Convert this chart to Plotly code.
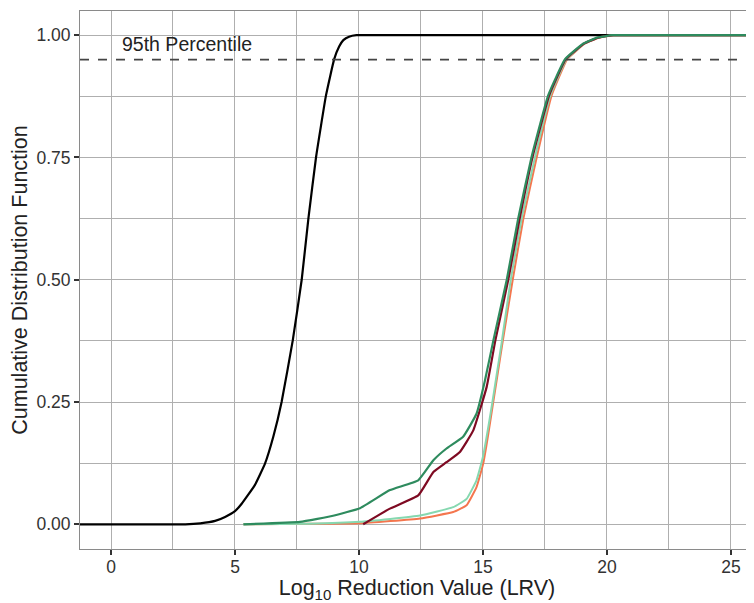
import plotly.graph_objects as go

# Data
black_x = [-1.25, 2.0, 3.0, 3.6, 4.2, 4.6, 5.0, 5.27, 5.8, 6.21, 6.55, 6.88, 7.33, 7.69, 7.96, 8.27, 8.67, 9.0, 9.2, 9.37, 9.6, 9.9, 10.5, 12.0, 16.0, 26.0]
black_y = [0.0, 0.0, 0.0, 0.002, 0.007, 0.015, 0.027, 0.042, 0.08, 0.124, 0.18, 0.25, 0.376, 0.5, 0.625, 0.751, 0.877, 0.951, 0.977, 0.99, 0.997, 1.0, 1.0, 1.0, 1.0, 1.0]

dgreen_x = [5.34, 7.62, 9.0, 10.04, 11.25, 12.39, 13.0, 13.53, 14.2, 14.74, 15.08, 15.42, 15.96, 16.42, 16.96, 17.63, 18.31, 19.05, 19.6, 20.2, 21.0, 23.0, 26.0]
dgreen_y = [0.0, 0.005, 0.018, 0.033, 0.07, 0.09, 0.131, 0.155, 0.179, 0.226, 0.294, 0.376, 0.5, 0.625, 0.751, 0.877, 0.951, 0.983, 0.995, 1.0, 1.0, 1.0, 1.0]

dred_x = [10.17, 11.25, 12.39, 13.0, 13.53, 14.07, 14.61, 15.15, 15.5, 16.02, 16.48, 17.0, 17.67, 18.34, 19.08, 19.65, 20.25, 21.0, 23.0, 26.0]
dred_y = [0.0, 0.032, 0.059, 0.107, 0.127, 0.148, 0.192, 0.281, 0.376, 0.5, 0.625, 0.751, 0.877, 0.951, 0.983, 0.995, 1.0, 1.0, 1.0, 1.0]

aqua_x = [5.34, 8.0, 10.04, 12.46, 13.8, 14.34, 14.74, 15.0, 15.35, 15.55, 15.75, 16.12, 16.56, 17.1, 17.72, 18.37, 19.1, 19.65, 20.25, 21.0, 23.0, 26.0]
aqua_y = [0.0, 0.001, 0.005, 0.018, 0.035, 0.052, 0.09, 0.138, 0.24, 0.305, 0.37, 0.5, 0.625, 0.751, 0.877, 0.951, 0.983, 0.995, 1.0, 1.0, 1.0, 1.0]

coral_x = [5.34, 8.0, 10.04, 12.46, 13.8, 14.34, 14.74, 15.01, 15.2, 15.4, 15.6, 15.8, 16.2, 16.63, 17.17, 17.77, 18.4, 19.12, 19.7, 20.3, 21.0, 23.0, 26.0]
coral_y = [0.0, 0.001, 0.002, 0.012, 0.025, 0.039, 0.076, 0.124, 0.18, 0.245, 0.31, 0.375, 0.5, 0.625, 0.751, 0.877, 0.951, 0.983, 0.995, 1.0, 1.0, 1.0, 1.0]

percentile_level = 0.95
percentile_label = "95th Percentile"
x_ticks = [0, 5, 10, 15, 20, 25]
y_ticks = [0.0, 0.25, 0.5, 0.75, 1.0]
y_tick_labels = ["0.00", "0.25", "0.50", "0.75", "1.00"]

fig = go.Figure()

def add_line(x, y, color, width=2.0):
    fig.add_trace(go.Scatter(x=x, y=y, mode="lines",
                             line=dict(color=color, width=width, shape="spline", smoothing=0.35),
                             showlegend=False, hoverinfo="skip"))

add_line(black_x, black_y, "#000000", 2.2)
add_line(coral_x, coral_y, "#F4764E", 2.0)
add_line(aqua_x, aqua_y, "#86D8B0", 2.0)
add_line(dred_x, dred_y, "#7E0A22", 2.2)
add_line(dgreen_x, dgreen_y, "#2E8B5E", 2.2)

fig.add_shape(type="line", xref="paper", yref="y", x0=0, x1=1,
              y0=percentile_level, y1=percentile_level,
              line=dict(color="#444444", width=1.6, dash="dash"))

fig.add_annotation(x=3.05, y=0.982, text=percentile_label, showarrow=False,
                   font=dict(size=19.5, color="#222222"), xanchor="center", yanchor="middle")

grid = "#AFAFAF"
fig.update_layout(
    width=746, height=595,
    margin=dict(l=72, r=0, t=3, b=54),
    plot_bgcolor="white", paper_bgcolor="white",
    font=dict(family="Liberation Sans, Arial, sans-serif", color="#222222"),
    xaxis=dict(range=[-1.25, 25.93], tickvals=x_ticks, ticktext=[str(v) for v in x_ticks],
               automargin=False, ticklabelstandoff=-3,
               showgrid=True, gridcolor=grid, gridwidth=1,
               minor=dict(dtick=2.5, tick0=0, showgrid=True, gridcolor=grid, gridwidth=1),
               zeroline=False, showline=True, linecolor="#8A8A8A", linewidth=1, mirror=True,
               ticks="outside", ticklen=5, tickcolor="#333333", tickwidth=1.5,
               tickfont=dict(size=17.5, color="#333333"),
               title=dict(text="Log<sub>10</sub> Reduction Value (LRV)", font=dict(size=21.5, color="#222222"), standoff=3)),
    yaxis=dict(range=[-0.0505, 1.0495], tickvals=y_ticks, ticktext=y_tick_labels,
               automargin=False,
               showgrid=True, gridcolor=grid, gridwidth=1,
               minor=dict(dtick=0.125, tick0=0, showgrid=True, gridcolor=grid, gridwidth=1),
               zeroline=False, showline=True, linecolor="#8A8A8A", linewidth=1, mirror=True,
               ticks="outside", ticklen=5, tickcolor="#333333", tickwidth=1.5,
               tickfont=dict(size=17.5, color="#333333"),
               title=dict(text="Cumulative Distribution Function", font=dict(size=21.5, color="#222222"), standoff=4)),
)

fig.write_html("out.html")
